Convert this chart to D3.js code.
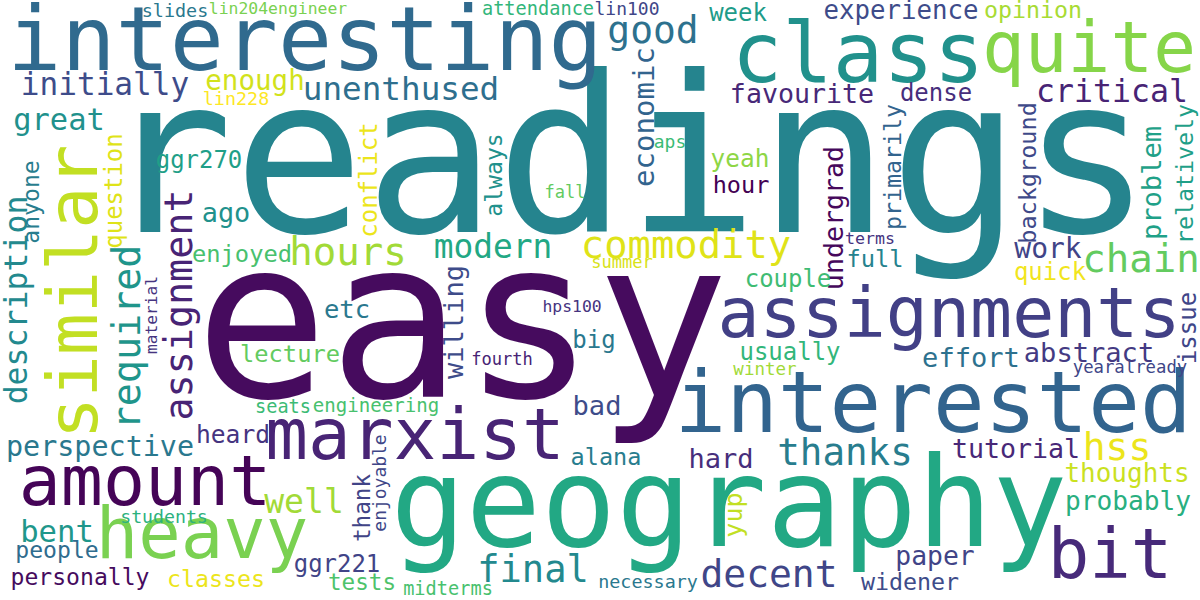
<!DOCTYPE html>
<html>
<head>
<meta charset="utf-8">
<script src="https://cdn.jsdelivr.net/npm/d3@7"></script>
<style>
  body { margin: 0; background: #fff; }
</style>
</head>
<body>
<div id="cloud"></div>
<script>
// words of the cloud, biggest first
const words = [
  "readings", "easy", "geography", "interesting", "interested", "class", "quite", "similar",
  "amount", "heavy", "marxist", "assignments", "bit", "hours", "commodity", "chain",
  "thanks", "decent", "final", "hss", "good", "required", "assignment", "unenthused",
  "modern", "well", "initially", "great", "critical", "description", "bent", "perspective",
  "work", "enough", "favourite", "economic", "willing", "undergrad", "problem", "bad",
  "hard", "effort", "abstract", "tutorial", "probably", "paper", "thoughts", "experience",
  "ago", "etc", "yup", "ggr270", "ggr221", "enjoyed", "question", "conflict",
  "week", "yeah", "hour", "couple", "dense", "full", "quick", "lecture",
  "heard", "big", "alana", "usually", "issue", "widener", "opinion", "always",
  "anyone", "primarily", "background", "relatively", "thank", "people", "personally", "classes",
  "tests", "engineering", "seats", "attendance", "midterms", "necessary", "slides", "lin228",
  "students", "lin100", "aps", "enjoyable", "winter", "yearalready", "fall", "summer",
  "fourth", "terms", "lin204engineer", "hps100", "material"
];

// relative frequency (1 = most frequent word)
const weights = [
  0.982, 1.000, 0.563, 0.405, 0.387, 0.378, 0.320, 0.315,
  0.315, 0.318, 0.320, 0.315, 0.311, 0.176, 0.175, 0.176,
  0.169, 0.171, 0.167, 0.171, 0.171, 0.173, 0.173, 0.147,
  0.148, 0.149, 0.140, 0.137, 0.142, 0.142, 0.138, 0.128,
  0.126, 0.124, 0.120, 0.131, 0.122, 0.120, 0.122, 0.122,
  0.122, 0.122, 0.122, 0.120, 0.118, 0.119, 0.117, 0.116,
  0.121, 0.115, 0.113, 0.108, 0.108, 0.107, 0.108, 0.108,
  0.108, 0.110, 0.106, 0.108, 0.108, 0.107, 0.108, 0.107,
  0.111, 0.108, 0.106, 0.108, 0.108, 0.105, 0.105, 0.104,
  0.104, 0.105, 0.106, 0.105, 0.102, 0.104, 0.104, 0.105,
  0.102, 0.086, 0.084, 0.084, 0.084, 0.083, 0.083, 0.083,
  0.082, 0.081, 0.081, 0.081, 0.079, 0.078, 0.077, 0.077,
  0.077, 0.075, 0.074, 0.074, 0.073
];

// where the cloud layout put each word (reference canvas units, 1200 x 600)
const posX = [
  627, 462, 729, 305, 933, 858, 1089, 97,
  145, 202, 415, 949, 1110, 348, 686, 1141,
  845, 769, 533, 1117, 653, 140, 192, 401,
  493, 304, 105, 59, 1112, 27, 57, 100,
  1048, 255, 802, 654, 463, 843, 1161, 597,
  721, 971, 1089, 1016, 1128, 935, 1127, 901,
  226, 347, 742, 199, 337, 242, 122, 377,
  738, 740, 741, 788, 936, 875, 1050, 290,
  233, 594, 606, 790, 1196, 910, 1033, 502,
  39, 901, 1036, 1193, 370, 57, 80, 216,
  362, 376, 283, 538, 448, 648, 175, 236,
  164, 627, 670, 386, 765, 1130, 565, 622,
  502, 870, 278, 572, 157
];
const posY = [
  232, 397, 546, 70, 432, 82, 72, 292,
  505, 558, 459, 337, 578, 265, 258, 272,
  465, 587, 582, 460, 43, 337, 305, 100,
  258, 513, 95, 130, 102, 300, 542, 456,
  258, 90, 103, 117, 322, 218, 183, 415,
  468, 367, 362, 458, 510, 565, 482, 19,
  222, 318, 515, 168, 572, 262, 191, 180,
  21, 167, 193, 287, 101, 267, 280, 362,
  443, 348, 465, 360, 328, 590, 18, 175,
  202, 167, 173, 174, 508, 558, 585, 587,
  590, 412, 413, 15, 595, 588, 17, 105,
  523, 15, 148, 483, 375, 373, 198, 268,
  365, 244, 14, 312, 315
];

// 1 = word set vertically, reading upwards
const upright = [
  0, 0, 0, 0, 0, 0, 0, 1,
  0, 0, 0, 0, 0, 0, 0, 0,
  0, 0, 0, 0, 0, 1, 1, 0,
  0, 0, 0, 0, 0, 1, 0, 0,
  0, 0, 0, 1, 1, 1, 1, 0,
  0, 0, 0, 0, 0, 0, 0, 0,
  0, 0, 1, 0, 0, 0, 1, 1,
  0, 0, 0, 0, 0, 0, 0, 0,
  0, 0, 0, 0, 1, 0, 0, 1,
  1, 1, 1, 1, 1, 0, 0, 0,
  0, 0, 0, 0, 0, 0, 0, 0,
  0, 0, 0, 1, 0, 0, 0, 0,
  0, 0, 0, 0, 1
];

// position of each word's colour on the viridis ramp
const tones = [
  0.45, 0.03, 0.60, 0.34, 0.32, 0.50, 0.82, 0.91,
  0.01, 0.80, 0.10, 0.19, 0.12, 0.86, 0.95, 0.76,
  0.42, 0.21, 0.47, 0.97, 0.37, 0.52, 0.10, 0.36,
  0.60, 0.86, 0.23, 0.50, 0.10, 0.47, 0.53, 0.40,
  0.20, 0.93, 0.11, 0.32, 0.23, 0.02, 0.57, 0.23,
  0.13, 0.37, 0.17, 0.11, 0.63, 0.20, 0.92, 0.23,
  0.50, 0.40, 0.91, 0.56, 0.20, 0.71, 0.95, 0.97,
  0.55, 0.83, 0.00, 0.69, 0.13, 0.44, 0.98, 0.76,
  0.15, 0.40, 0.42, 0.66, 0.21, 0.23, 0.87, 0.50,
  0.42, 0.32, 0.22, 0.56, 0.20, 0.35, 0.03, 0.97,
  0.72, 0.71, 0.68, 0.66, 0.71, 0.40, 0.40, 1.00,
  0.64, 0.21, 0.68, 0.21, 0.86, 0.21, 0.76, 0.94,
  0.10, 0.15, 0.80, 0.15, 0.15
];

const width = 1200;
const height = 600;

const svg = d3.select("#cloud")
    .append("svg")
    .attr("width", width)
    .attr("height", height);

svg.append("rect")
    .attr("width", width)
    .attr("height", height)
    .attr("fill", "#ffffff");

const x = d3.scaleLinear().domain([0, 1200]).range([0, width]);
const y = d3.scaleLinear().domain([0, 600]).range([0, height]);
const fontSize = d3.scaleLinear().domain([0, 1]).range([0, 222]);
const colour = d3.scaleSequential(d3.interpolateViridis).domain([0, 1]);

const data = words.map((w, i) => ({
    text: w,
    weight: weights[i],
    x: posX[i],
    y: posY[i],
    vertical: upright[i] === 1,
    tone: tones[i]
}));

svg.selectAll("text.word")
    .data(data)
    .enter()
    .append("text")
    .attr("class", "word")
    .attr("transform", d => `translate(${x(d.x)},${y(d.y)})` + (d.vertical ? " rotate(-90)" : ""))
    .attr("text-anchor", "middle")
    .style("font-family", "'DejaVu Sans Mono', monospace")
    .style("font-size", d => fontSize(d.weight) + "px")
    .style("fill", d => colour(d.tone))
    .text(d => d.text);
</script>
</body>
</html>
